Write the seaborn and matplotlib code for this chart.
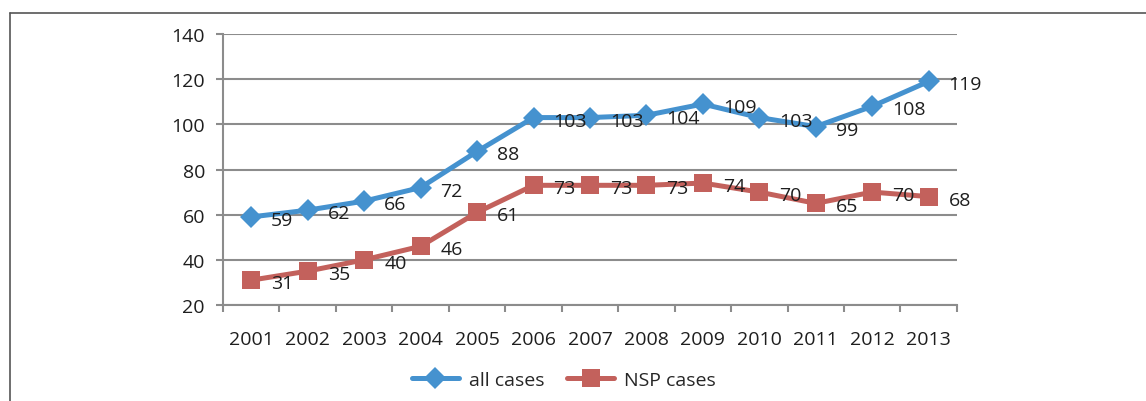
import matplotlib
matplotlib.use("Agg")
import matplotlib.pyplot as plt
from matplotlib.lines import Line2D
import pandas as pd
import seaborn as sns

years = ["2001", "2002", "2003", "2004", "2005", "2006", "2007",
         "2008", "2009", "2010", "2011", "2012", "2013"]
all_cases = [59, 62, 66, 72, 88, 103, 103, 104, 109, 103, 99, 108, 119]
nsp_cases = [31, 35, 40, 46, 61, 73, 73, 73, 74, 70, 65, 70, 68]

BLUE = "#4592CF"
RED = "#C3615C"
GRID = "#8C8C8C"
TXT = "#1E1E1E"
FS = 14

sns.set_style("white")
plt.rcParams["font.family"] = ["Open Sans", "DejaVu Sans"]

df = pd.DataFrame({"pos": range(len(years)), "all": all_cases, "nsp": nsp_cases})

fig = plt.figure(figsize=(11.46, 4.02), dpi=100)
ax = fig.add_axes([0.1946, 0.2388, 0.835 - 0.1946, 0.9129 - 0.2388])

sns.lineplot(data=df, x="pos", y="all", ax=ax, color=BLUE, lw=3.6,
             marker="D", markersize=11, markeredgewidth=0, zorder=4)
sns.lineplot(data=df, x="pos", y="nsp", ax=ax, color=RED, lw=3.6,
             marker="s", markersize=13, markeredgewidth=0, zorder=4)

# data labels to the right of each point
for i in range(len(years)):
    for v in (all_cases[i], nsp_cases[i]):
        ax.annotate(str(v), (i, v), xytext=(20, -3), textcoords="offset pixels",
                    ha="left", va="center", fontsize=FS, color=TXT, zorder=5)

ax.set_xlim(-0.5, len(years) - 0.5)
ax.set_ylim(20, 140)
ax.set_yticks(range(20, 141, 20))
ax.set_xticks(range(len(years)))
ax.set_xticklabels(years)
ax.set_xticks([i - 0.5 for i in range(len(years) + 1)], minor=True)
ax.set_xlabel("")
ax.set_ylabel("")

ax.yaxis.grid(True, color=GRID, lw=1.5)
ax.set_axisbelow(True)
for s in ("top", "right"):
    ax.spines[s].set_visible(False)
ax.spines["left"].set_color(GRID)
ax.spines["left"].set_linewidth(1.5)
ax.spines["bottom"].set_color(GRID)
ax.spines["bottom"].set_linewidth(1.5)

ax.tick_params(axis="x", which="major", length=0, pad=18, labelsize=FS, labelcolor=TXT)
ax.tick_params(axis="x", which="minor", length=5, width=1.5, color=GRID, direction="out", bottom=True)
ax.tick_params(axis="y", length=5, width=1.5, color=GRID, direction="out", left=True,
               pad=8, labelsize=FS, labelcolor=TXT)

handles = [
    Line2D([], [], color=BLUE, lw=3.6, marker="D", markersize=11, markeredgewidth=0),
    Line2D([], [], color=RED, lw=3.6, marker="s", markersize=13, markeredgewidth=0),
]
fig.legend(handles, ["all cases", "NSP cases"], loc="center",
           bbox_to_anchor=(0.492, 0.052), ncol=2, frameon=False, fontsize=FS,
           handlelength=2.4, columnspacing=1.2, handletextpad=0.5)

# outer chart border (only top and left visible)
fig.add_artist(Line2D([0.0087, 1.02], [0.965, 0.965], transform=fig.transFigure,
                      color="#555555", lw=1.2))
fig.add_artist(Line2D([0.0087, 0.0087], [-0.02, 0.965], transform=fig.transFigure,
                      color="#555555", lw=1.2))

fig.savefig("out.png", dpi=100)
